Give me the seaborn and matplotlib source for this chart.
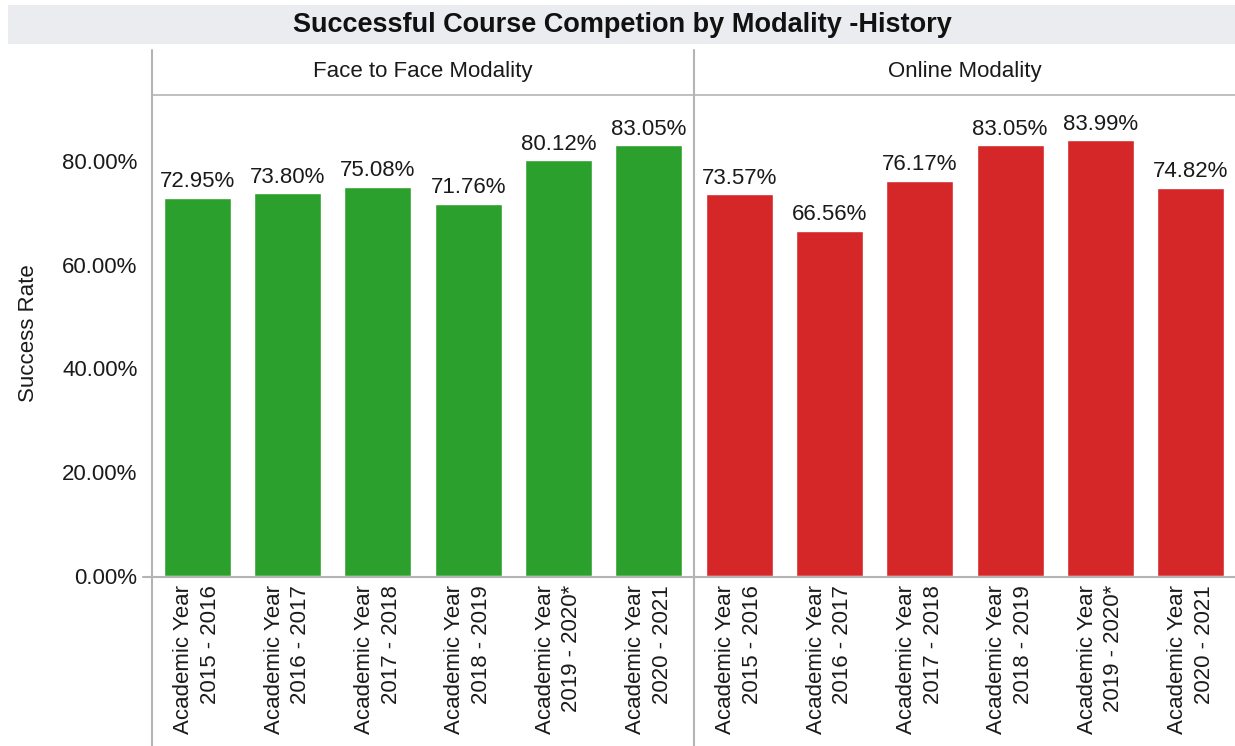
import matplotlib
matplotlib.use("Agg")
import matplotlib.pyplot as plt
from matplotlib.lines import Line2D
from matplotlib.patches import Rectangle
from matplotlib.ticker import FixedLocator
import seaborn as sns
import pandas as pd

years = ["Academic Year\n2015 - 2016", "Academic Year\n2016 - 2017",
         "Academic Year\n2017 - 2018", "Academic Year\n2018 - 2019",
         "Academic Year\n2019 - 2020*", "Academic Year\n2020 - 2021"]
face_to_face = [72.95, 73.80, 75.08, 71.76, 80.12, 83.05]
online = [73.57, 66.56, 76.17, 83.05, 83.99, 74.82]
panels = ["Face to Face Modality", "Online Modality"]
y_ticks = [0, 20, 40, 60, 80]
title = "Successful Course Competion by Modality -History"
y_label = "Success Rate"

sns.set_style("white")
plt.rcParams['font.family'] = ['Liberation Sans', 'DejaVu Sans']

W, H = 1235, 746
fig = plt.figure(figsize=(W / 100, H / 100), dpi=100)

TXT = "#1a1a1a"
LINE = "#b4b4b4"
FS = 16

def fx(x):
    return x / W

def fy(y):
    return 1 - y / H

top, base = 95, 576
ylim_top = (base - top) / ((base - 161) / 80.0)

colors = ["#2ca02c", "#d62728"]
data = [face_to_face, online]
lefts = [152, 694]
width_px = 542

axes = []
for i in range(2):
    ax = fig.add_axes([fx(lefts[i]), fy(base), width_px / W, (base - top) / H])
    df = pd.DataFrame({"year": years, "rate": data[i]})
    sns.barplot(data=df, x="year", y="rate", color=colors[i], width=0.74,
                saturation=1, ax=ax)
    ax.set_ylim(0, ylim_top)
    ax.set_xlim(-0.5, len(years) - 0.5)
    for s in ax.spines.values():
        s.set_visible(False)
    ax.set_xlabel("")
    ax.set_ylabel("")
    ax.tick_params(axis="x", which="major", length=0, pad=6.5, labelsize=FS,
                   labelcolor=TXT)
    ax.set_xticks(range(len(years)))
    ax.set_xticklabels(years, rotation=90, ha="center", va="top",
                       multialignment="right", linespacing=1.35)
    ax.xaxis.set_minor_locator(FixedLocator([k + 0.5 for k in range(len(years) - 1)]))
    ax.tick_params(axis="x", which="minor", length=5, width=1, color=LINE,
                   direction="out", pad=0)
    for bar, v in zip(ax.patches, data[i]):
        ax.annotate(f"{v:.2f}%", (bar.get_x() + bar.get_width() / 2, bar.get_height()),
                    xytext=(0, 4), textcoords="offset points", ha="center",
                    va="bottom", fontsize=FS, color=TXT)
    if i == 0:
        ax.set_yticks(y_ticks)
        ax.set_yticklabels([f"{t:.2f}%" for t in y_ticks])
        ax.tick_params(axis="y", length=6.5, width=1, color=LINE, pad=4,
                       labelsize=FS, labelcolor=TXT)
    else:
        ax.set_yticks([])
    axes.append(ax)

# Title band
fig.add_artist(Rectangle((fx(8), fy(44)), fx(W) - fx(8), fy(5) - fy(44),
                         transform=fig.transFigure, facecolor="#ebecf0",
                         edgecolor="none", zorder=0))
fig.text(fx(622), fy(25), title, ha="center", va="center", fontsize=19.5,
         fontweight="bold", color="#111111")

# Panel headers
for i in range(2):
    fig.text(fx(lefts[i] + width_px / 2), fy(72), panels[i], ha="center",
             va="center", fontsize=FS, color=TXT)

# Frame lines
fig.add_artist(Line2D([fx(152), fx(W)], [fy(95), fy(95)], transform=fig.transFigure,
                      color=LINE, lw=1.2))
for x in lefts:
    fig.add_artist(Line2D([fx(x), fx(x)], [fy(50), fy(H)], transform=fig.transFigure,
                          color=LINE, lw=1.5))
fig.add_artist(Line2D([fx(143), fx(W)], [fy(576.5), fy(576.5)], transform=fig.transFigure,
                      color=LINE, lw=1.5))

fig.text(fx(28), fy(333), y_label, rotation=90, ha="center", va="center",
         fontsize=FS, color=TXT)

fig.savefig("out.png", dpi=100)
